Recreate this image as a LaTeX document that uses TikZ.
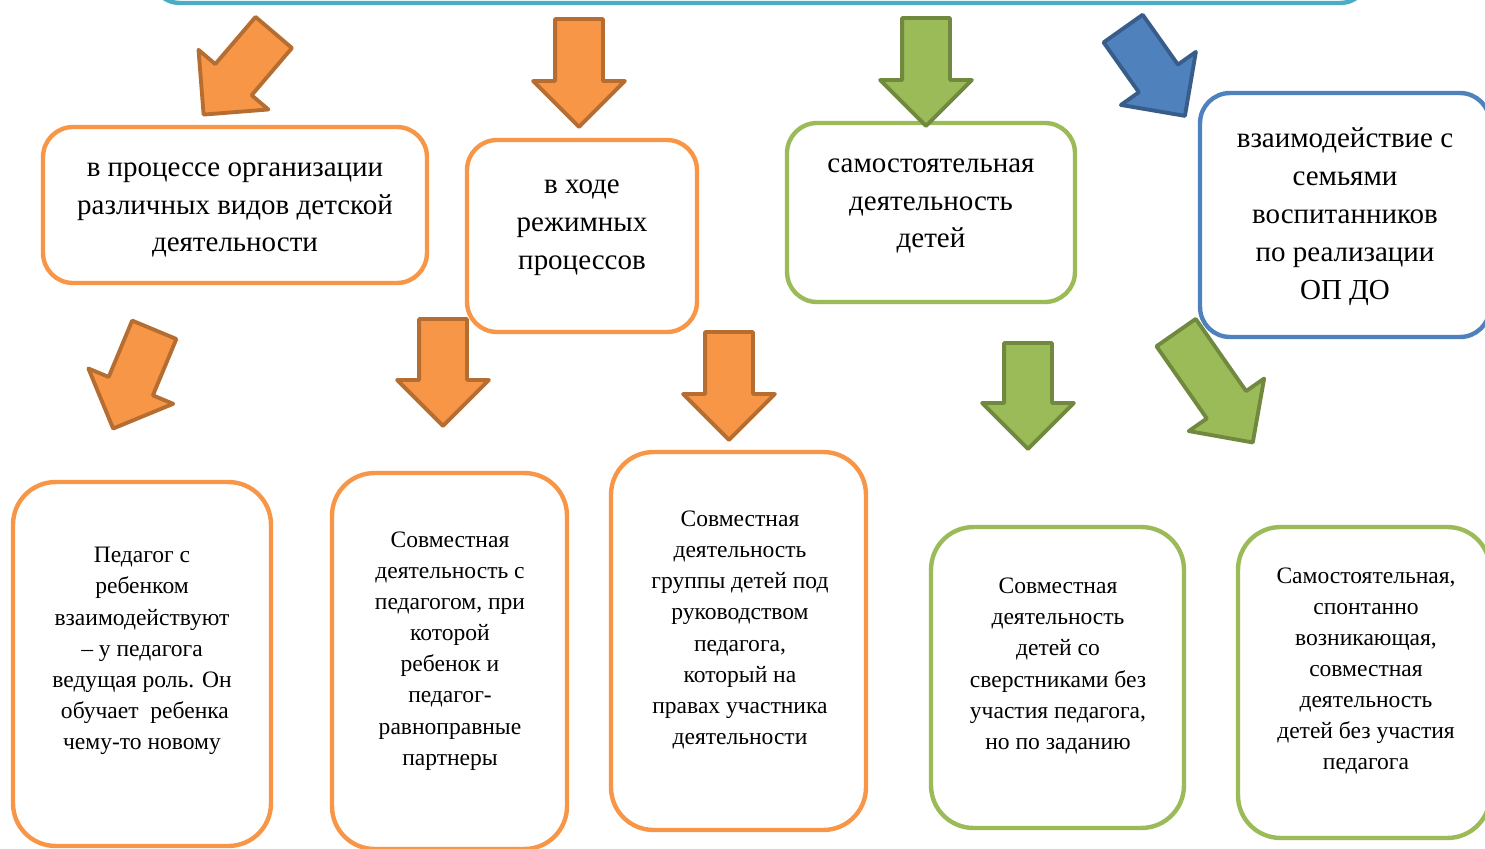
\documentclass[tikz,border=0pt]{standalone}
\usepackage{fontspec}
\setmainfont{Liberation Serif}
\usetikzlibrary{shapes.arrows}

\definecolor{orangefill}{HTML}{F79646}
\definecolor{orangeline}{HTML}{B66D31}
\definecolor{greenfill}{HTML}{9BBB59}
\definecolor{greenline}{HTML}{71893F}
\definecolor{bluefill}{HTML}{4F81BD}
\definecolor{blueline}{HTML}{385D8A}
\definecolor{cyanline}{HTML}{4BACC6}

\tikzset{
  arr/.style 2 args={single arrow, draw=#1line, fill=#1fill, line width=2.2pt,
    line join=round, inner xsep=0pt, inner ysep=0.44cm,
    single arrow head extend=0.44cm, minimum height=#2, anchor=tail},
  box/.style={draw=#1, line width=2.5pt, rounded corners=0.85cm},
  topbox/.style={box=#1, rounded corners=0.6cm},
  bigtext/.style={align=center, font=\fontsize{16.5}{21.6}\selectfont},
  smalltext/.style={align=center, font=\fontsize{13.4}{17.7}\selectfont}
}

\begin{document}
\begin{tikzpicture}[x=0.02cm,y=-0.02cm]
  \clip (0,0) rectangle (1485,849);

  % upper box, cut by the page
  \node[topbox=cyanline, minimum width=24.4cm, minimum height=2cm] (top) at (760,-47) {};

  % first row
  \node[topbox=orangefill, minimum width=7.68cm, minimum height=3.12cm] (a1) at (235,205) {};
  \node[topbox=orangefill, minimum width=4.6cm, minimum height=3.84cm] (a2) at (582,236) {};
  \node[topbox=greenfill, minimum width=5.76cm, minimum height=3.58cm] (a3) at (931,212.5) {};
  \node[topbox=bluefill, minimum width=5.8cm, minimum height=4.88cm] (a4) at (1345,215) {};

  \node[bigtext] (a1t) at (235,210) {в процессе организации\\различных видов детской\\деятельности};
  \node[bigtext] (a2t) at (582,228) {в ходе\\режимных\\процессов};
  \node[bigtext] (a3t) at (931,206) {самостоятельная\\деятельность\\детей};
  \node[bigtext] (a4t) at (1345,217) {взаимодействие с\\семьями\\воспитанников\\по реализации\\ОП ДО};

  % second row
  \node[box=orangefill, minimum width=5.16cm, minimum height=7.28cm] (b1) at (142,664) {};
  \node[box=orangefill, minimum width=4.7cm, minimum height=7.52cm] (b2) at (449.5,661) {};
  \node[box=orangefill, minimum width=5.1cm, minimum height=7.56cm] (b3) at (738.5,641) {};
  \node[box=greenfill, minimum width=5.06cm, minimum height=6.02cm] (b4) at (1057.5,677.5) {};
  \node[box=greenfill, minimum width=5.04cm, minimum height=6.22cm] (b5) at (1364,682.5) {};

  \node[smalltext] (b1t) at (142,651) {Педагог с\\ребенком\\взаимодействуют\\– у педагога\\ведущая роль. Он\\\ обучает\ \ ребенка\\чему-то новому};
  \node[smalltext] (b2t) at (450,651) {Совместная\\деятельность с\\педагогом, при\\которой\\ребенок и\\педагог-\\равноправные\\партнеры};
  \node[smalltext] (b3t) at (740,630) {Совместная\\деятельность\\группы детей под\\руководством\\педагога,\\который на\\правах участника\\деятельности};
  \node[smalltext] (b4t) at (1058,666) {Совместная\\деятельность\\детей со\\сверстниками без\\участия педагога,\\но по заданию};
  \node[smalltext] (b5t) at (1366,671) {Самостоятельная,\\спонтанно\\возникающая,\\совместная\\деятельность\\детей без участия\\педагога};

  % block arrows
  \node[arr={orange}{2.16cm}, rotate=229.5] (ar1) at (275,31) {};
  \node[arr={orange}{2.16cm}, rotate=-90] (ar2) at (579,17) {};
  \node[arr={green}{2.16cm}, rotate=-90] (ar3) at (926,16) {};
  \node[arr={blue}{2.14cm}, rotate=-54.7] (ar4) at (1122,27) {};
  \node[arr={orange}{2.14cm}, rotate=247.4] (ar5) at (155,328) {};
  \node[arr={orange}{2.14cm}, rotate=-90] (ar6) at (443,317) {};
  \node[arr={orange}{2.16cm}, rotate=-90] (ar7) at (729,330) {};
  \node[arr={green}{2.12cm}, rotate=-90] (ar8) at (1028,341) {};
  \node[arr={green}{2.68cm}, rotate=-55.1] (ar9) at (1175,331) {};
\end{tikzpicture}
\end{document}
